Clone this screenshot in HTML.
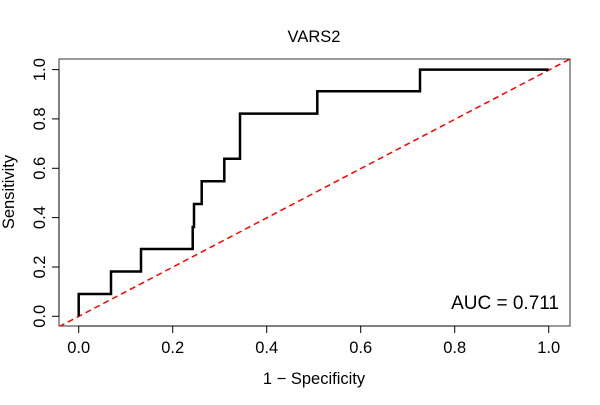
<!DOCTYPE html>
<html><head><style>body{margin:0;background:#fff}</style></head><body>
<svg width="600" height="400" xmlns="http://www.w3.org/2000/svg" font-family="Liberation Sans, sans-serif">
<defs><clipPath id="c"><rect x="59" y="59" width="511" height="267"/></clipPath></defs>
<text x="314" y="42" font-size="16.5" text-anchor="middle">VARS2</text>
<rect x="59" y="59" width="511" height="267" fill="none" stroke="#333" stroke-width="1"/>
<g stroke="#000" stroke-width="1">
<line x1="78.7" y1="326" x2="548.7" y2="326"/>
<line x1="78.7" y1="326" x2="78.7" y2="333"/><line x1="172.7" y1="326" x2="172.7" y2="333"/><line x1="266.7" y1="326" x2="266.7" y2="333"/><line x1="360.7" y1="326" x2="360.7" y2="333"/><line x1="454.7" y1="326" x2="454.7" y2="333"/><line x1="548.7" y1="326" x2="548.7" y2="333"/>
<line x1="59" y1="69.6" x2="59" y2="316.3"/>
<line x1="52" y1="316.3" x2="59" y2="316.3"/><line x1="52" y1="267" x2="59" y2="267"/><line x1="52" y1="217.6" x2="59" y2="217.6"/><line x1="52" y1="168.3" x2="59" y2="168.3"/><line x1="52" y1="118.9" x2="59" y2="118.9"/><line x1="52" y1="69.6" x2="59" y2="69.6"/>
</g>
<g font-size="16.5" text-anchor="middle">
<text x="78.7" y="353">0.0</text><text x="172.7" y="353">0.2</text><text x="266.7" y="353">0.4</text><text x="360.7" y="353">0.6</text><text x="454.7" y="353">0.8</text><text x="548.7" y="353">1.0</text>
<text transform="translate(45,316.3) rotate(-90)">0.0</text><text transform="translate(45,267) rotate(-90)">0.2</text><text transform="translate(45,217.6) rotate(-90)">0.4</text><text transform="translate(45,168.3) rotate(-90)">0.6</text><text transform="translate(45,118.9) rotate(-90)">0.8</text><text transform="translate(45,69.6) rotate(-90)">1.0</text>
<text x="314" y="384">1 − Specificity</text>
<text transform="translate(14,192) rotate(-90)">Sensitivity</text>
</g>
<text x="559" y="309" font-size="19" text-anchor="end">AUC = 0.711</text>
<g clip-path="url(#c)">
<line x1="59" y1="326.7" x2="570" y2="59" stroke="#f00" stroke-width="1.5" stroke-dasharray="6,4"/>
<polyline fill="none" stroke="#000" stroke-width="2.5" points="78.7,316.3 78.7,294 111,294 111,271.5 141,271.5 141,249 192.7,249 192.7,227 194,227 194,204 201.7,204 201.7,181.3 224.3,181.3 224.3,158.7 240,158.7 240,113.6 317.3,113.6 317.3,91.3 420,91.3 420,69.6 548.7,69.6"/>
</g>
</svg>
</body></html>
